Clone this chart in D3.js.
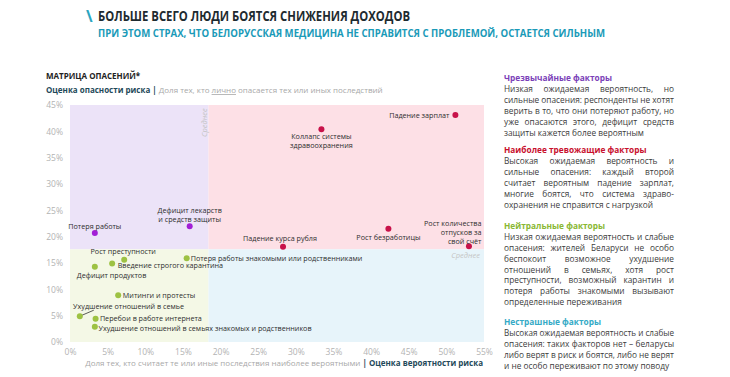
<!DOCTYPE html>
<html lang="ru">
<head>
<meta charset="UTF-8">
<title>Матрица опасений</title>
<script src="https://cdnjs.cloudflare.com/ajax/libs/d3/7.8.5/d3.min.js"></script>
<style>
  body { margin: 0; background: #fff; }
  svg { font-family: "Open Sans", "Noto Sans", sans-serif; }
</style>
</head>
<body>
<div id="chart"></div>
<script>
// Data
const factors = [
  "Потеря работы", "Дефицит лекарств|и средств защиты", "Падение зарплат",
  "Коллапс системы|здравоохранения", "Рост безработицы", "Рост количества|отпусков за|свой счёт",
  "Падение курса рубля", "Рост преступности", "Введение строгого карантина",
  "Дефицит продуктов", "Потеря работы знакомыми или родственниками", "Митинги и протесты",
  "Ухудшение отношений в семье", "Перебои в работе интернета",
  "Ухудшение отношений в семьях знакомых и родственников"
];
const likelihood = [3.3, 15.9, 51.2, 33.4, 42.3, 53.0, 28.3, 7.2, 5.6, 3.3, 15.5, 6.4, 1.3, 3.4, 3.3];
const concern    = [20.7, 22.0, 43.1, 40.4, 21.5, 18.2, 18.1, 15.6, 14.9, 14.3, 15.9, 8.9, 4.9, 4.4, 2.9];
const quadrant   = ["ext", "ext", "alarm", "alarm", "alarm", "alarm", "alarm",
                    "neutral", "neutral", "neutral", "neutral", "neutral", "neutral", "neutral", "neutral"];
const avgLikelihood = 18.4;
const avgConcern = 17.6;
const xTicks = [0, 5, 10, 15, 20, 25, 30, 35, 40, 45, 50, 55];
const yTicks = [0, 5, 10, 15, 20, 25, 30, 35, 40, 45];

// label placement: anchor, dx, dy of first line (px)
const labelPos = [
  ["middle", 0, -4], ["middle", 0, -13], ["end", -6, 3], ["middle", 0, 10], ["middle", 0, 11],
  ["end", 12.5, -20], ["middle", -3, -6], ["middle", -1, -5.5], ["start", 5.5, 4.5],
  ["start", -18, 11.5], ["start", 4, 2.5], ["start", 4.7, 2.7], ["start", -6.7, -7.3],
  ["start", 4.3, 2.3], ["start", 3.6, 4.3]
];

const width = 730, height = 377;
const svg = d3.select("#chart").append("svg")
  .attr("width", width).attr("height", height);

// Title
svg.append("text").attr("x", 86).attr("y", 22)
  .attr("fill", "#2aa5c0").style("font-size", "16px").style("font-weight", 700).text("\\");
svg.append("text").attr("x", 98).attr("y", 21)
  .attr("fill", "#1e2b30").style("font-size", "14px").style("font-weight", 700)
  .attr("textLength", 312).attr("lengthAdjust", "spacingAndGlyphs")
  .text("БОЛЬШЕ ВСЕГО ЛЮДИ БОЯТСЯ СНИЖЕНИЯ ДОХОДОВ");
svg.append("text").attr("x", 98).attr("y", 37)
  .attr("fill", "#1a9ab8").style("font-size", "10.5px").style("font-weight", 700)
  .attr("textLength", 507).attr("lengthAdjust", "spacingAndGlyphs")
  .text("ПРИ ЭТОМ СТРАХ, ЧТО БЕЛОРУССКАЯ МЕДИЦИНА НЕ СПРАВИТСЯ С ПРОБЛЕМОЙ, ОСТАЕТСЯ СИЛЬНЫМ");

// Scales
const x = d3.scaleLinear().domain([0, 55]).range([70, 484]);
const y = d3.scaleLinear().domain([0, 45]).range([342, 105]);

// Quadrants
const quads = [
  [0, avgLikelihood, avgConcern, 45, "#ece3f8"],
  [avgLikelihood, 55, avgConcern, 45, "#fde0e6"],
  [0, avgLikelihood, 0, avgConcern, "#f4f8e6"],
  [avgLikelihood, 55, 0, avgConcern, "#e7f4fa"]
];
svg.selectAll("rect.quad").data(quads).enter().append("rect")
  .attr("class", "quad")
  .attr("x", d => x(d[0])).attr("width", d => x(d[1]) - x(d[0]))
  .attr("y", d => y(d[3])).attr("height", d => y(d[2]) - y(d[3]))
  .attr("fill", d => d[4]);

// Average labels
svg.append("text")
  .attr("transform", `translate(${x(avgLikelihood) - 2},${y(45) + 32}) rotate(-90)`)
  .attr("fill", "#c4c4c4").style("font-size", "7.5px").style("font-style", "italic")
  .text("Среднее");
svg.append("text").attr("x", x(55) - 4).attr("y", y(avgConcern) + 9)
  .attr("text-anchor", "end")
  .attr("fill", "#c4c4c4").style("font-size", "7.5px").style("font-style", "italic")
  .text("Среднее");

// Axes (labels only)
const xAxis = svg.append("g").attr("transform", `translate(0,${y(0) + 1})`)
  .call(d3.axisBottom(x).tickValues(xTicks).tickFormat(d => d + "%").tickSize(0).tickPadding(6));
const yAxis = svg.append("g").attr("transform", `translate(${x(0) - 1},0)`)
  .call(d3.axisLeft(y).tickValues(yTicks).tickFormat(d => d + "%").tickSize(0).tickPadding(6));
[xAxis, yAxis].forEach(a => {
  a.select(".domain").remove();
  a.selectAll("text").attr("fill", "#b3b3b3").style("font-size", "8.5px")
    .style("font-family", "'Open Sans', sans-serif");
});

// Axis titles
svg.append("text").attr("x", 46).attr("y", 79)
  .attr("fill", "#222").style("font-size", "8px").style("font-weight", 700)
  .text("МАТРИЦА ОПАСЕНИЙ*");
const yt = svg.append("text").attr("x", 46).attr("y", 93).style("font-size", "8px");
yt.append("tspan").attr("fill", "#1f4a5a").style("font-weight", 700).text("Оценка опасности риска");
yt.append("tspan").attr("fill", "#1f4a5a").style("font-weight", 700).text(" | ");
yt.append("tspan").attr("fill", "#a8a8a8").text("Доля тех, кто ");
yt.append("tspan").attr("fill", "#a8a8a8").style("text-decoration", "underline").text("лично");
yt.append("tspan").attr("fill", "#a8a8a8").text(" опасается тех или иных последствий");

const xt = svg.append("text").attr("x", 483).attr("y", 366)
  .attr("text-anchor", "end").style("font-size", "8px");
xt.append("tspan").attr("fill", "#a8a8a8").text("Доля тех, кто считает те или иные последствия наиболее вероятными");
xt.append("tspan").attr("fill", "#1f4a5a").style("font-weight", 700).text(" | Оценка вероятности риска");

// Points
const color = { ext: "#a21fd6", alarm: "#c8124a", neutral: "#9dc243" };
const pts = factors.map((f, i) => ({ name: f, lx: likelihood[i], cy: concern[i], q: quadrant[i], pos: labelPos[i] }));

// leader line for "Ухудшение отношений в семье"
const lead = pts[12];
svg.append("line")
  .attr("x1", x(lead.lx)).attr("y1", y(lead.cy))
  .attr("x2", x(lead.lx) + 14).attr("y2", y(lead.cy) - 6)
  .attr("stroke", "#333").attr("stroke-width", 0.8);

svg.selectAll("circle.pt").data(pts).enter().append("circle")
  .attr("class", "pt")
  .attr("cx", d => x(d.lx)).attr("cy", d => y(d.cy)).attr("r", 3)
  .attr("fill", d => color[d.q]);

const labels = svg.selectAll("text.lbl").data(pts).enter().append("text")
  .attr("class", "lbl")
  .attr("text-anchor", d => d.pos[0])
  .attr("fill", "#2e2e2e").style("font-size", "7.2px");
labels.each(function(d) {
  const t = d3.select(this);
  d.name.split("|").forEach((line, k) => {
    t.append("tspan")
      .attr("x", x(d.lx) + d.pos[1])
      .attr("y", y(d.cy) + d.pos[2] + k * 9)
      .text(line);
  });
});

// Right panel
const panel = [
  { head: "Чрезвычайные факторы", color: "#7b3fb8", y: 81, lines: [
    "Низкая ожидаемая вероятность, но",
    "сильные опасения: респонденты не хотят",
    "верить в то, что они потеряют работу, но",
    "уже опасаются этого, дефицит средств",
    "защиты кажется более вероятным"] },
  { head: "Наиболее тревожащие факторы", color: "#c8102e", y: 153, lines: [
    "Высокая ожидаемая вероятность и",
    "сильные опасения: каждый второй",
    "считает вероятным падение зарплат,",
    "многие боятся, что система здраво-",
    "охранения не справится с нагрузкой"] },
  { head: "Нейтральные факторы", color: "#8ab833", y: 228.5, lines: [
    "Низкая ожидаемая вероятность и слабые",
    "опасения: жителей Беларуси не особо",
    "беспокоит возможное ухудшение",
    "отношений в семьях, хотя рост",
    "преступности, возможный карантин и",
    "потеря работы знакомыми вызывают",
    "определенные переживания"] },
  { head: "Нестрашные факторы", color: "#35aac6", y: 324.5, lines: [
    "Высокая ожидаемая вероятность и слабые",
    "опасения: таких факторов нет – беларусы",
    "либо верят в риск и боятся, либо не верят",
    "и не особо переживают по этому поводу"] }
];
const px0 = 504, pw = 170, lh = 10.9;
panel.forEach(p => {
  const g = svg.append("g").style("font-size", "8.3px");
  g.append("text").attr("x", px0).attr("y", p.y)
    .attr("fill", p.color).style("font-weight", 700).text(p.head);
  p.lines.forEach((line, i) => {
    const ly = p.y + 11.3 + i * lh;
    if (i === p.lines.length - 1) {
      g.append("text").attr("x", px0).attr("y", ly).attr("fill", "#3c3c3c").text(line);
      return;
    }
    const words = line.split(" ");
    const nodes = words.map(w => g.append("text").attr("y", ly).attr("fill", "#3c3c3c").text(w));
    const ws = nodes.map(n => n.node().getComputedTextLength());
    const gap = (pw - d3.sum(ws)) / (words.length - 1);
    if (gap < 1.5) {
      nodes.forEach(n => n.remove());
      g.append("text").attr("x", px0).attr("y", ly).attr("fill", "#3c3c3c")
        .attr("textLength", pw).attr("lengthAdjust", "spacingAndGlyphs").text(line);
      return;
    }
    let cx = px0;
    nodes.forEach((n, j) => { n.attr("x", cx); cx += ws[j] + gap; });
  });
});
</script>
</body>
</html>
